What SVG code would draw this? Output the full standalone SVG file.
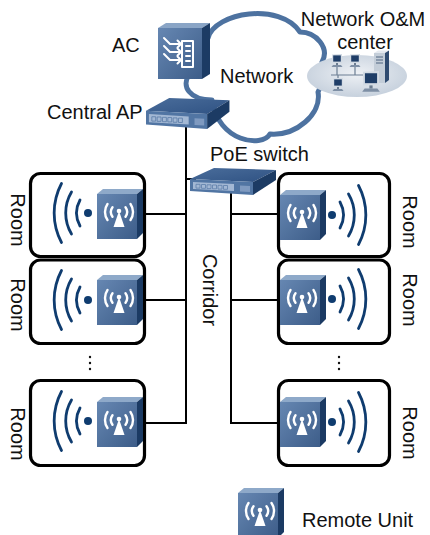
<svg xmlns="http://www.w3.org/2000/svg" width="430" height="535" viewBox="0 0 430 535">
<defs>
<style>
.lbl{font-family:"Liberation Sans",Arial,sans-serif;font-size:20px;fill:#111}
.room{fill:#fff;stroke:#000;stroke-width:3.2}
.wire{fill:none;stroke:#000;stroke-width:2}
.wave{fill:none;stroke:#0f3c6f;stroke-width:2.8;stroke-linecap:round}
.wifi{fill:none;stroke:#fff;stroke-width:2.4;stroke-linecap:round}
.acw{fill:none;stroke:#fff;stroke-width:2;stroke-linecap:round;stroke-linejoin:round}
</style>
<linearGradient id="ruFront" x1="0" y1="0" x2="1" y2="1">
 <stop offset="0" stop-color="#6687b2"/><stop offset="1" stop-color="#3d5d89"/>
</linearGradient>
<linearGradient id="swTop" x1="0" y1="0" x2="1" y2="1">
 <stop offset="0" stop-color="#4a6d9b"/><stop offset="1" stop-color="#2f5283"/>
</linearGradient>
<radialGradient id="omBase" cx="0.5" cy="0.45" r="0.6">
 <stop offset="0" stop-color="#eef1f5"/><stop offset="1" stop-color="#c3cedb"/>
</radialGradient>
<!-- remote unit box -->
<g id="ru">
 <polygon points="0,5 6,0 46,0 40,5" fill="#8ea9c9"/>
 <polygon points="40,5 46,0 46,44 40,50" fill="#1b3a63"/>
 <rect x="0" y="5" width="40" height="45" fill="url(#ruFront)"/>
 <path class="wifi" d="M10.5,15 A14 14 0 0 0 10.5,31 M15.5,18.3 A8 8 0 0 0 15.5,27.7 M33.5,15 A14 14 0 0 1 33.5,31 M28.5,18.3 A8 8 0 0 1 28.5,27.7"/>
 <circle cx="22" cy="22" r="2.3" fill="#fff"/>
 <polygon points="22,22 16.5,38 27.5,38" fill="#fff"/>
</g>
<!-- radio waves radiating to the left of the dot -->
<g id="wavesL">
 <circle cx="0" cy="0" r="4" fill="#0f3c6f"/>
 <path class="wave" d="M-8,-13 A27 27 0 0 0 -8,13 M-16.5,-21 A41 41 0 0 0 -16.5,21 M-26.5,-29.5 A63 63 0 0 0 -26.5,29.5"/>
</g>
<!-- rack switch -->
<g id="sw">
 <polygon points="0,11 24,0 86,2 63,14" fill="url(#swTop)"/>
 <polygon points="0,11 63,14 63,27 0,23" fill="#5175a3"/>
 <polygon points="63,14 86,2 86,12 63,27" fill="#1c3b64"/>
 <polygon points="3,14 44,16 44,23 3,21" fill="#a3b8d4"/>
 <path d="M6,16.3h4v3.8h-4zM11.5,16.5h4v3.8h-4zM17,16.8h4v3.8h-4zM22.5,17h4v3.8h-4zM28,17.3h4v3.8h-4zM33.5,17.5h4v3.8h-4z" fill="none" stroke="#5d7ea9" stroke-width="0.8"/>
 <polygon points="50,17.5 60,18 60,24 50,23.5" fill="#7f9ac0"/>
</g>
<g id="pc">
 <polygon points="0,0.5 10,0 10,9 0,9" fill="#d3dbe4"/>
 <rect x="1.2" y="1.4" width="7.6" height="6.2" fill="#1f3e68"/>
 <rect x="4" y="9" width="2" height="2" fill="#6b7c90"/>
 <polygon points="1,11 9,11 10.5,13 -0.5,13" fill="#7e8fa5"/>
</g>
</defs>

<!-- network cloud -->
<g id="cloud">
 <path d="M208,38 C215,12 280,2 300,32 C316,32 330,48 322,62 C328,72 322,84 318,92 C322,114 296,136 270,134 C262,148 218,142 212,100 C190,100 180,86 190,74 C182,58 190,40 208,38 Z" fill="#fff" stroke="#4d72a0" stroke-width="5" stroke-linejoin="round"/>
 <text class="lbl" x="220" y="83">Network</text>
</g>

<!-- network O&M center -->
<g id="om-center">
 <ellipse cx="357" cy="76" rx="50" ry="21" fill="url(#omBase)"/>
 <path d="M331,75H372M337,65V75M355,65V75M338,75V78" fill="none" stroke="#6d7f93" stroke-width="1.2"/>
 <use href="#pc" x="332" y="54"/>
 <use href="#pc" x="350" y="54"/>
 <use href="#pc" x="333" y="78"/>
 <polygon points="374,53 378,50.5 389,50.5 385,53" fill="#e4e9ef"/>
 <polygon points="385,53 389,50.5 389,80 385,83" fill="#2f4b70"/>
 <rect x="374" y="53" width="11" height="30" fill="#c3cdd8"/>
 <path d="M376,57h7M376,60h7M376,63h7" stroke="#4f6480" stroke-width="1"/>
 <use href="#pc" transform="translate(363,71) scale(1.6)"/>
 <text class="lbl" x="363" y="26" text-anchor="middle">Network O&amp;M</text>
 <text class="lbl" x="365" y="49" text-anchor="middle">center</text>
</g>

<!-- access controller -->
<g id="ac">
 <polygon points="158,28 166,23 210,23 202,28" fill="#8aa5c6"/>
 <polygon points="202,28 210,23 210,74 202,79" fill="#1c3b64"/>
 <rect x="158" y="28" width="44" height="51" fill="url(#ruFront)"/>
 <rect x="182" y="41" width="11" height="26" class="acw"/>
 <path class="acw" d="M186,46h4M186,51h4M186,56h4M186,61h4"/>
 <path class="acw" d="M164,38L170,44H181M177.5,40.5L181,44L177.5,47.5M164,46L170,52H181M177.5,48.5L181,52L177.5,55.5M164,54L170,60H181M177.5,56.5L181,60L177.5,63.5"/>
 <text class="lbl" x="112" y="52">AC</text>
</g>

<!-- connectors -->
<g id="wires" class="wire">
 <path d="M186,126V423H146M186,214H146M186,300H146"/>
 <path d="M186,179H196"/>
 <path d="M231,190V423H278M231,214H278M231,300H278"/>
</g>

<!-- central AP -->
<g id="central-ap">
 <use href="#sw" transform="translate(146,98) scale(0.97,1.15)"/>
 <text class="lbl" x="47" y="119">Central AP</text>
</g>

<!-- PoE switch -->
<g id="poe-switch">
 <use href="#sw" transform="translate(190,168)"/>
 <text class="lbl" x="210" y="161">PoE switch</text>
</g>

<text class="lbl" transform="translate(203,290) rotate(90)" text-anchor="middle">Corridor</text>

<!-- rooms, left side -->
<g id="room-l1">
 <rect class="room" x="30.5" y="173.5" width="114" height="83" rx="10"/>
 <use href="#wavesL" x="88" y="213"/>
 <use href="#ru" x="97" y="189"/>
 <text class="lbl" transform="translate(11,220) rotate(90)" text-anchor="middle">Room</text>
</g>
<g id="room-l2">
 <rect class="room" x="30.5" y="260" width="114" height="83.5" rx="10"/>
 <use href="#wavesL" x="88" y="300"/>
 <use href="#ru" x="97" y="275"/>
 <text class="lbl" transform="translate(11,305) rotate(90)" text-anchor="middle">Room</text>
</g>
<g id="dots-l" fill="#111">
 <circle cx="90" cy="357" r="1.2"/><circle cx="90" cy="363" r="1.2"/><circle cx="90" cy="369" r="1.2"/>
</g>
<g id="room-l3">
 <rect class="room" x="30.5" y="380.5" width="114" height="85" rx="10"/>
 <use href="#wavesL" x="88" y="421"/>
 <use href="#ru" x="97" y="397"/>
 <text class="lbl" transform="translate(11,434) rotate(90)" text-anchor="middle">Room</text>
</g>

<!-- rooms, right side -->
<g id="room-r1">
 <rect class="room" x="278.5" y="173.5" width="111" height="83" rx="10"/>
 <use href="#wavesL" transform="translate(332,215) scale(-1,1)"/>
 <use href="#ru" x="280" y="190"/>
 <text class="lbl" transform="translate(403,222) rotate(90)" text-anchor="middle">Room</text>
</g>
<g id="room-r2">
 <rect class="room" x="278.5" y="260" width="111" height="83.5" rx="10"/>
 <use href="#wavesL" transform="translate(332,299) scale(-1,1)"/>
 <use href="#ru" x="280" y="275"/>
 <text class="lbl" transform="translate(403,300) rotate(90)" text-anchor="middle">Room</text>
</g>
<g id="dots-r" fill="#111">
 <circle cx="339" cy="357" r="1.2"/><circle cx="339" cy="363" r="1.2"/><circle cx="339" cy="369" r="1.2"/>
</g>
<g id="room-r3">
 <rect class="room" x="278.5" y="380.5" width="111" height="85" rx="10"/>
 <use href="#wavesL" transform="translate(332,422) scale(-1,1)"/>
 <use href="#ru" x="280" y="397"/>
 <text class="lbl" transform="translate(403,433) rotate(90)" text-anchor="middle">Room</text>
</g>

<!-- legend -->
<g id="legend">
 <use href="#ru" x="238" y="488"/>
 <text class="lbl" x="302" y="527">Remote Unit</text>
</g>
</svg>
